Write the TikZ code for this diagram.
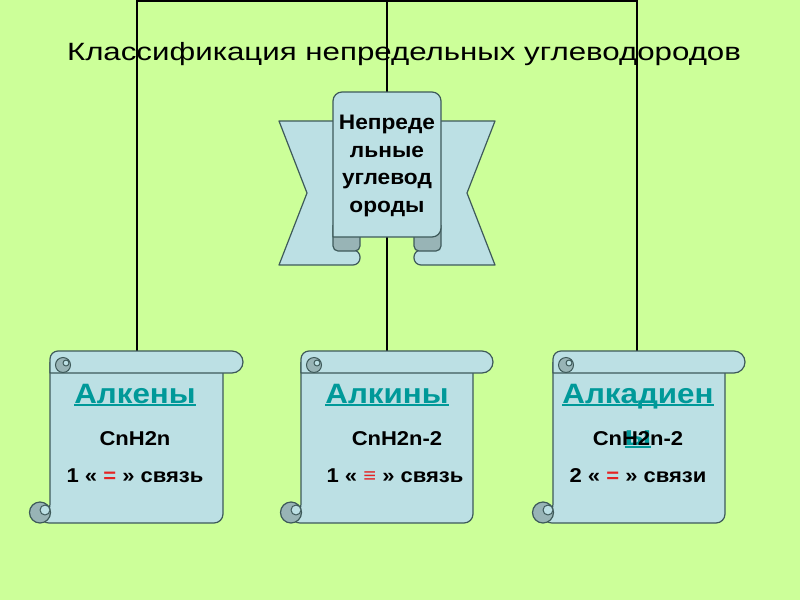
\documentclass[tikz,border=0pt]{standalone}
\usepackage{fontspec}
\setmainfont{Liberation Sans}
\usetikzlibrary{positioning}
\definecolor{Cfundo}{RGB}{204,255,153}
\definecolor{Cpapel}{RGB}{188,224,228}
\definecolor{Cdobra}{RGB}{152,180,182}
\definecolor{Clinha}{RGB}{62,90,90}
\definecolor{Cturq}{RGB}{0,153,153}
\definecolor{Cverm}{RGB}{228,36,36}
\newcommand{\sublinhado}[1]{\setbox0\hbox{#1}\rlap{\rule[-3pt]{\wd0}{2pt}}\box0}
\newcommand{\largo}[2][1.1]{\scalebox{#1}[1]{#2}}

\begin{document}
\begin{tikzpicture}[x=1pt, y=-1pt,
  papel/.style={draw=Clinha, fill=Cpapel, line width=1.2pt, line join=round},
  dobra/.style={draw=Clinha, fill=Cdobra, line width=1.2pt},
  ligacao/.style={draw=black, line width=2pt},
  tipo/.style={font=\fontsize{28}{32}\selectfont\bfseries, text=Cturq,
               anchor=base, inner sep=0pt},
  formula/.style={font=\fontsize{20}{24}\selectfont\bfseries,
                  anchor=base, inner sep=0pt}]
  \fill[Cfundo] (0,0) rectangle (800,600);
  \useasboundingbox (0,0) rectangle (800,600);

  \node[font=\fontsize{25}{30}\selectfont, anchor=base, inner sep=0pt]
    (titulo) at (404,60) {\largo[1.25]{Классификация непредельных углеводородов}};

  % connectors
  \coordinate (topo esq) at (137,1);
  \coordinate (topo meio) at (387,1);
  \coordinate (topo dir) at (637,1);
  \coordinate (alk esq) at (137,351);
  \coordinate (alk meio) at (387,351);
  \coordinate (alk dir) at (637,351);
  \draw[ligacao, line cap=rect] (topo esq) -- (topo dir);
  \draw[ligacao] (topo esq) -- (alk esq);
  \draw[ligacao] (topo meio) -- (alk meio);
  \draw[ligacao] (topo dir) -- (alk dir);

  % ribbon
  \draw[papel] (279,121) -- (340,121) -- (340,250) [rounded corners=7] -- (360,250)
    -- (360,265) [sharp corners] -- (279,265) -- (307,193) -- cycle;
  \draw[papel] (495,121) -- (434,121) -- (434,250) [rounded corners=7] -- (414,250)
    -- (414,265) [sharp corners] -- (495,265) -- (467,193) -- cycle;
  \draw[dobra, rounded corners=5] (333,225) -- (333,251) -- (360,251) -- (360,225);
  \draw[dobra, rounded corners=5] (441,225) -- (441,251) -- (414,251) -- (414,225);
  \draw[papel] (333,237) [rounded corners=9] -- (333,92) -- (441,92)
    -- (441,237) [sharp corners] -- cycle;
  \node[font=\fontsize{21}{27.7}\selectfont\bfseries, align=center, inner sep=0pt]
    (insat) at (387,166)
    {\largo[1.08]{Непреде}\\\largo[1.08]{льные}\\\largo[1.08]{углевод}\\\largo[1.08]{ороды}};

  % scrolls
  \foreach \L/\R in {50/223, 301/473, 553/725} {
    \draw[papel, rounded corners=9] ({\L},362) -- ({\L},513) -- ({\L-10},523)
      -- ({\R},523) -- ({\R},362);
    \draw[papel] ({\L},373) [rounded corners=8] -- ({\L},351) [rounded corners=11]
      -- ({\R+20},351) -- ({\R+20},373) [sharp corners] -- cycle;
    \draw[dobra, line width=1pt] ({\L+13},365) circle[radius=7.5];
    \draw[papel, line width=1pt] ({\L+16},363) circle[radius=3];
    \draw[dobra] ({\L-10},512.5) circle[radius=10.5];
    \draw[papel, line width=1pt] ({\L-5},510) circle[radius=5];
  }

  \node[tipo] (alkeny) at (135,403) {\largo[1.12]{\sublinhado{Алкены}}};
  \node[formula] (f alkeny) at (135,445) {\largo{CnH2n}};
  \node[formula] (lig alkeny) at (135,482) {\largo{1 « \textcolor{Cverm}{=} » связь}};

  \node[tipo] (alkiny) at (387,403) {\largo[1.12]{\sublinhado{Алкины}}};
  \node[formula] (f alkiny) at (397,445) {\largo{CnH2n-2}};
  \node[formula] (lig alkiny) at (395,482) {\largo{1 « \textcolor{Cverm}{≡} » связь}};

  \node[tipo] (alkadieny) at (638,403) {\largo[1.12]{\sublinhado{Алкадиен}}};
  \node[tipo] (alkadieny y) at (638,445) {\largo[1.12]{\sublinhado{ы}}};
  \node[formula] (f alkadieny) at (638,445) {\largo{CnH2n-2}};
  \node[formula] (lig alkadieny) at (638,482) {\largo{2 « \textcolor{Cverm}{=} » связи}};
\end{tikzpicture}
\end{document}
